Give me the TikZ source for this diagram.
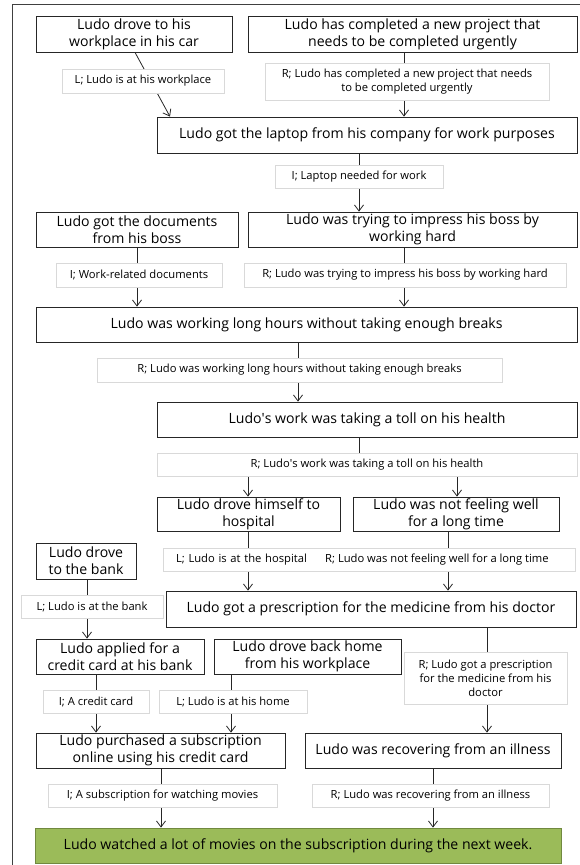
\documentclass[tikz,border=0pt]{standalone}
\usepackage{fontspec}
\setmainfont{Open Sans}
\usetikzlibrary{arrows.meta,backgrounds}
\definecolor{gfill}{HTML}{9BBB59}
\definecolor{gdraw}{HTML}{71893F}
\tikzset{
  box/.style={draw=black!85, line width=0.8pt, fill=white, align=center, inner sep=0pt,
    font=\fontsize{14.1}{16.8}\selectfont},
  lab/.style={draw=black!15, line width=0.6pt, fill=white, align=center, inner sep=0pt,
    font=\fontsize{11.2}{14}\selectfont},
  labtext/.style={inner sep=0pt, font=\fontsize{11.2}{14}\selectfont},
  arr/.style={-{Straight Barb[length=6pt,width=9pt]}, line width=0.8pt, draw=black!85},
  ln/.style={line width=0.8pt, draw=black!85},
}
\begin{document}
\begin{tikzpicture}[x=1pt,y=-1pt]
\useasboundingbox (0,0) rectangle (580,865);
\coordinate (fa) at (12,865);
\coordinate (fb) at (12,4);
\coordinate (fc) at (580,4);
\draw[line width=1pt, draw=black!75] (fa) -- (fb) -- (fc);

% boxes
\node[box, minimum width=196, minimum height=36] (drove) at (134,34) {Ludo drove to his\\workplace in his car};
\node[box, minimum width=329, minimum height=36] (project) at (412.5,34) {Ludo has completed a new project that\\needs to be completed urgently};
\node[box, minimum width=420, minimum height=36] (laptop) at (367,135) {Ludo got the laptop from his company for work purposes};
\node[box, minimum width=202, minimum height=35] (docs) at (137,229.5) {Ludo got the documents\\from his boss};
\node[box, minimum width=329, minimum height=35] (impress) at (412.5,229.5) {Ludo was trying to impress his boss by\\working hard};
\node[box, minimum width=541, minimum height=35] (hours) at (306.5,324.5) {Ludo was working long hours without taking enough breaks};
\node[box, minimum width=420, minimum height=35] (toll) at (367,419.5) {Ludo\textquotesingle s work was taking a toll on his health};
\node[box, minimum width=183, minimum height=34] (hosp) at (248.5,514) {Ludo drove himself to\\hospital};
\node[box, minimum width=206, minimum height=34] (notwell) at (456,514) {Ludo was not feeling well\\for a long time};
\node[box, minimum width=100, minimum height=36] (bank) at (86,561) {Ludo drove\\to the bank};
\node[box, minimum width=410, minimum height=36] (presc) at (371,609) {Ludo got a prescription for the medicine from his doctor};
\node[box, minimum width=168, minimum height=35] (applied) at (120,656.5) {Ludo applied for a\\credit card at his bank};
\node[box, minimum width=187, minimum height=35] (backhome) at (307.5,656.5) {Ludo drove back home\\from his workplace};
\node[box, minimum width=249, minimum height=35] (purch) at (160.5,750.5) {Ludo purchased a subscription\\online using his credit card};
\node[box, minimum width=256, minimum height=35] (recov) at (433,750.5) {Ludo was recovering from an illness};
\node[box, fill=gfill, draw=gdraw, minimum width=526, minimum height=35] (final) at (298,845.5) {Ludo watched a lot of movies on the subscription during the next week.};

% labels
\node[lab, minimum width=162, minimum height=24] (lwork) at (143,81) {L; Ludo is at his workplace};
\node[lab, minimum width=284, minimum height=37] (lproj) at (407,81.5) {R; Ludo has completed a new project that needs\\to be completed urgently};
\node[lab, minimum width=168, minimum height=23] (llap) at (359,176.5) {I; Laptop needed for work};
\node[lab, minimum width=166, minimum height=24] (ldocs) at (139,275) {I; Work-related documents};
\node[lab, minimum width=322, minimum height=24] (limp) at (405,275) {R; Ludo was trying to impress his boss by working hard};
\node[lab, minimum width=405, minimum height=24] (lhours) at (299.5,370) {R; Ludo was working long hours without taking enough breaks};
\node[lab, minimum width=420, minimum height=23] (ltoll) at (367,464.5) {R; Ludo\textquotesingle s work was taking a toll on his health};
\node[lab, minimum width=412, minimum height=23, inner xsep=13pt, text width=386pt, align=left] (lhosp) at (369,559.5) {L; Ludo is at the hospital};
\node[labtext, anchor=west] (rnf) at (325,559.5) {R; Ludo was not feeling well for a long time};
\node[lab, minimum width=142, minimum height=23] (lbank) at (92,606.5) {L; Ludo is at the bank};
\node[lab, minimum width=163, minimum height=52] (lpresc) at (485.5,678) {R; Ludo got a prescription\\for the medicine from his\\doctor};
\node[lab, minimum width=106, minimum height=23] (lcard) at (96,701.5) {I; A credit card};
\node[lab, minimum width=148, minimum height=23] (lhome) at (233,701.5) {L; Ludo is at his home};
\node[lab, minimum width=229, minimum height=23] (lsub) at (162.5,795.5) {I; A subscription for watching movies};
\node[lab, minimum width=237, minimum height=23] (lrec) at (430.5,795.5) {R; Ludo was recovering from an illness};

% edge x positions
\coordinate (xa) at (135,0);
\coordinate (xb) at (170,0);
\coordinate (x404) at (404,0);
\coordinate (x359) at (359,0);
\coordinate (x137) at (137,0);
\coordinate (x298) at (298,0);
\coordinate (x248) at (248,0);
\coordinate (x457) at (457,0);
\coordinate (x448) at (448,0);
\coordinate (x87) at (87,0);
\coordinate (x487) at (487,0);
\coordinate (x96) at (96,0);
\coordinate (x231) at (231,0);
\coordinate (x161) at (161,0);
\coordinate (x433) at (433,0);

\begin{scope}[on background layer]
\draw[arr] (drove.south -| xa) -- (laptop.north -| xb);
\draw[arr] (project.south -| x404) -- (laptop.north -| x404);
\draw[arr] (laptop.south -| x359) -- (impress.north -| x359);
\draw[arr] (docs.south -| x137) -- (hours.north -| x137);
\draw[arr] (impress.south -| x404) -- (hours.north -| x404);
\draw[arr] (hours.south -| x298) -- (toll.north -| x298);
\draw[ln] (toll.south -| x359) -- (ltoll.north -| x359);
\draw[arr] (ltoll.south -| x248) -- (hosp.north -| x248);
\draw[arr] (ltoll.south -| x457) -- (notwell.north -| x457);
\draw[arr] (hosp.south -| x248) -- (presc.north -| x248);
\draw[arr] (notwell.south -| x448) -- (presc.north -| x448);
\draw[arr] (bank.south -| x87) -- (applied.north -| x87);
\draw[arr] (presc.south -| x487) -- (recov.north -| x487);
\draw[arr] (applied.south -| x96) -- (purch.north -| x96);
\draw[arr] (backhome.south -| x231) -- (purch.north -| x231);
\draw[arr] (purch.south -| x161) -- (final.north -| x161);
\draw[arr] (recov.south -| x433) -- (final.north -| x433);
\end{scope}
\end{tikzpicture}
\end{document}
